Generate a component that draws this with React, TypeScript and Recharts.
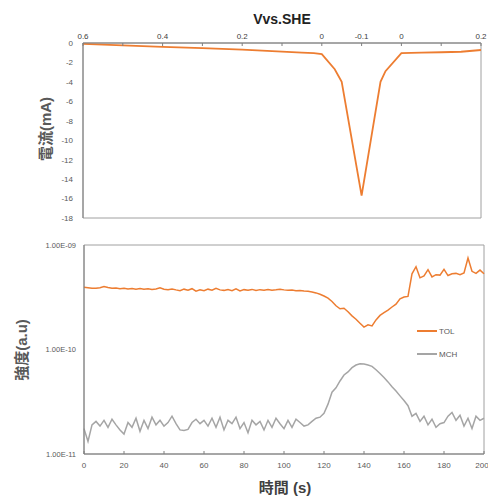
import { Line, LineChart, ReferenceArea, XAxis, YAxis } from 'recharts';

// top panel: current vs time (labelled by potential)
const cvTime = [0, 20, 40, 60, 80, 100, 110, 116, 120, 126.5, 130, 140, 149.5, 152, 160, 170, 180, 190, 200];
const cvCurrent = [-0.08, -0.25, -0.4, -0.52, -0.68, -0.88, -0.98, -1.05, -1.15, -2.7, -4.0, -15.7, -4.0, -2.9, -1.05, -1.0, -0.95, -0.9, -0.72];
const potentialTicks = [0, 20, 40, 60, 80, 100, 120, 140, 160, 180, 200];
const potentialLabels: Record<number, string> = { 0: '0.6', 40: '0.4', 80: '0.2', 120: '0', 140: '-0.1', 160: '0', 200: '0.2' };
const currentTicks = [0, -2, -4, -6, -8, -10, -12, -14, -16, -18];

// bottom panel: intensity, one sample every 2 s
const sampleStep = 2;
const tolE10 = [
  3.95, 3.9, 3.85, 3.85, 3.9, 4.0, 3.92, 3.85, 3.88, 3.82,
  3.86, 3.8, 3.84, 3.78, 3.83, 3.77, 3.82, 3.75, 3.8, 3.9,
  3.78, 3.74, 3.8, 3.72, 3.66, 3.78, 3.7, 3.82, 3.62, 3.72,
  3.65, 3.78, 3.7, 3.85, 3.72, 3.68, 3.74, 3.66, 3.8, 3.64,
  3.74, 3.7, 3.76, 3.68, 3.74, 3.7, 3.76, 3.7, 3.73, 3.78,
  3.72, 3.68, 3.7, 3.65, 3.66, 3.62, 3.6, 3.55, 3.48, 3.38,
  3.25, 3.1, 2.88, 2.62, 2.45, 2.48, 2.3, 2.1, 1.95, 1.78,
  1.64, 1.72, 1.68, 1.92, 2.12, 2.25, 2.38, 2.55, 2.72, 3.05,
  3.18, 3.22, 5.3, 6.2, 4.85, 5.05, 5.8, 4.95, 5.2, 5.15,
  5.85, 5.1, 5.3, 5.35, 5.2, 5.4, 7.5, 5.6, 5.35, 5.75,
  5.3,
];
const mchE11 = [
  1.75, 1.32, 1.9, 2.05, 1.85, 2.1, 1.8, 2.15, 1.9, 1.7,
  1.55, 2.0, 1.8, 2.2, 1.65, 2.1, 1.75, 2.25, 1.9, 2.1,
  1.85, 2.0, 2.3, 1.95, 1.7, 1.68, 1.72, 2.0, 2.15, 1.95,
  2.1, 1.85, 2.2, 1.8, 2.25, 1.7, 2.1, 1.95, 2.25, 1.75,
  2.0, 1.6, 2.1, 1.9, 2.05, 1.7, 2.1, 1.8, 2.2, 1.95,
  1.75, 2.1, 1.8, 2.15, 2.0, 1.85, 1.9, 2.05, 2.2, 2.25,
  2.45, 3.0, 3.9, 4.3, 5.0, 5.7, 6.1, 6.7, 7.1, 7.3,
  7.25, 7.1, 6.9, 6.4, 5.9, 5.4, 4.9, 4.4, 4.0, 3.6,
  3.25, 2.9, 2.3, 2.45, 2.05, 2.3, 1.9, 2.15, 1.8, 1.95,
  2.0, 2.3, 2.5, 2.1, 2.35, 1.85, 2.2, 1.75, 2.3, 2.1,
  2.2,
];
const timeTicks = [0, 20, 40, 60, 80, 100, 120, 140, 160, 180, 200];
const intensityTicks = [1e-11, 1e-10, 1e-9];

const ORANGE = '#ED7D31';
const GRAY = '#A5A5A5';
const FONT = "'Liberation Sans', 'Noto Sans CJK JP', sans-serif";

const cvData = cvTime.map((t, i) => ({ t, current: cvCurrent[i] }));
const msData = tolE10.map((v, i) => ({ t: i * sampleStep, TOL: v * 1e-10, MCH: mchE11[i] * 1e-11 }));

const sciLabel = (v: number) => {
  const exp = Math.round(Math.log10(v));
  const mant = v / Math.pow(10, exp);
  const sign = exp < 0 ? '-' : '+';
  return `${mant.toFixed(2)}E${sign}${String(Math.abs(exp)).padStart(2, '0')}`;
};

const tickStyle = { fill: '#595959', fontSize: 8, fontFamily: FONT };

export default function App() {
  return (
    <div style={{ position: 'absolute', left: 0, top: 0, width: 488, height: 497, background: '#fff', fontFamily: FONT, overflow: 'hidden' }}>
      <div style={{ position: 'absolute', left: 0, top: 0 }}>
        <LineChart width={488} height={230} data={cvData} margin={{ top: 23, right: 7, bottom: 12, left: 43 }}>
          <XAxis
            dataKey="t"
            type="number"
            orientation="top"
            domain={[0, 200]}
            ticks={potentialTicks}
            tickFormatter={(v) => potentialLabels[v] ?? ''}
            height={20}
            tickSize={-3}
            tickMargin={7}
            stroke="#7f7f7f"
            tick={{ fill: '#404040', fontSize: 8, fontFamily: FONT }}
          />
          <YAxis
            type="number"
            domain={[-18, 0]}
            ticks={currentTicks}
            width={40}
            tickLine={false}
            tickSize={0}
            tickMargin={10}
            stroke="#7f7f7f"
            tick={tickStyle}
          />
          <ReferenceArea x1={0} x2={200} y1={-18} y2={0} fill="none" stroke="#a0a0a0" />
          <Line type="linear" dataKey="current" stroke={ORANGE} strokeWidth={1.8} dot={false} isAnimationActive={false} />
        </LineChart>
      </div>

      <div style={{ position: 'absolute', left: 0, top: 230 }}>
        <LineChart width={488} height={267} data={msData} margin={{ top: 15, right: 4, bottom: 23, left: 39 }}>
          <XAxis
            dataKey="t"
            type="number"
            domain={[0, 200]}
            ticks={timeTicks}
            height={20}
            tickSize={-3}
            tickMargin={11}
            stroke="#7f7f7f"
            tick={tickStyle}
          />
          <YAxis
            type="number"
            scale="log"
            domain={[1e-11, 1e-9]}
            allowDataOverflow
            ticks={intensityTicks}
            tickFormatter={sciLabel}
            width={45}
            tickLine={false}
            tickSize={0}
            tickMargin={8}
            stroke="#7f7f7f"
            tick={{ ...tickStyle, fontSize: 7.5 }}
          />
          <ReferenceArea x1={0} x2={200} y1={1e-11} y2={1e-9} fill="none" stroke="#a0a0a0" />
          <Line type="linear" dataKey="TOL" stroke={ORANGE} strokeWidth={1.5} dot={false} isAnimationActive={false} />
          <Line type="linear" dataKey="MCH" stroke={GRAY} strokeWidth={1.5} dot={false} isAnimationActive={false} />
        </LineChart>
      </div>

      {/* titles */}
      <div style={{ position: 'absolute', left: 230, top: 12, width: 104, textAlign: 'center', fontSize: 14, lineHeight: '14px', fontWeight: 'bold', color: '#222' }}>
        Vvs.SHE
      </div>
      <div style={{ position: 'absolute', left: 45, top: 129, transform: 'translate(-50%, -50%) rotate(-90deg)', whiteSpace: 'nowrap', fontSize: 15, lineHeight: '15px', fontWeight: 'bold', color: '#595959' }}>
        電流(mA)
      </div>
      <div style={{ position: 'absolute', left: 21, top: 350, transform: 'translate(-50%, -50%) rotate(-90deg)', whiteSpace: 'nowrap', fontSize: 15, lineHeight: '15px', fontWeight: 'bold', color: '#595959' }}>
        強度(a.u)
      </div>
      <div style={{ position: 'absolute', left: 235, top: 480, width: 100, textAlign: 'center', fontSize: 15, lineHeight: '15px', fontWeight: 'bold', color: '#404040' }}>
        時間 (s)
      </div>

      {/* legend */}
      {[{ name: 'TOL', color: ORANGE, y: 331 }, { name: 'MCH', color: GRAY, y: 354 }].map((s) => (
        <div key={s.name} style={{ position: 'absolute', left: 417, top: s.y - 6, height: 12, display: 'flex', alignItems: 'center' }}>
          <span style={{ display: 'inline-block', width: 20, height: 2, background: s.color }} />
          <span style={{ marginLeft: 2, fontSize: 8, color: '#595959' }}>{s.name}</span>
        </div>
      ))}
    </div>
  );
}
